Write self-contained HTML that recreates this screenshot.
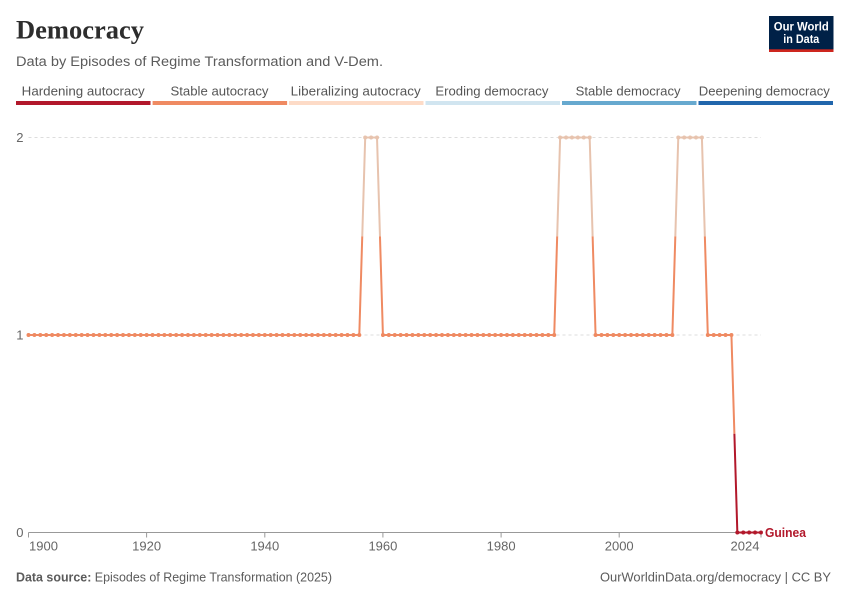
<!DOCTYPE html>
<html>
<head>
<meta charset="utf-8">
<style>
  html, body { margin: 0; padding: 0; background: #ffffff; }
  svg { display: block; }
  text { font-family: "Liberation Sans", "DejaVu Sans", sans-serif; }
  text.serif { font-family: "Liberation Serif", "DejaVu Serif", serif; }
</style>
</head>
<body>
<svg width="850" height="600" viewBox="0 0 850 600" xmlns="http://www.w3.org/2000/svg">
  <rect x="0" y="0" width="850" height="600" fill="#ffffff"/>

  <!-- Title -->
  <text class="serif" x="16" y="38.5" style="font-family:'Liberation Serif', serif; font-size:26px; font-weight:bold;" fill="#2d2d2d" textLength="128" lengthAdjust="spacingAndGlyphs">Democracy</text>
  <!-- Subtitle -->
  <text x="16" y="66" font-size="13.5" fill="#5b5b5b" textLength="367" lengthAdjust="spacingAndGlyphs">Data by Episodes of Regime Transformation and V-Dem.</text>

  <!-- Logo -->
  <rect x="769" y="16" width="64.5" height="36" fill="#002147"/>
  <rect x="769" y="49.3" width="64.5" height="2.7" fill="#ce261e"/>
  <text x="801.3" y="30.5" font-size="12" font-weight="bold" fill="#ffffff" text-anchor="middle" textLength="55" lengthAdjust="spacingAndGlyphs">Our World</text>
  <text x="801.3" y="43" font-size="12" font-weight="bold" fill="#ffffff" text-anchor="middle" textLength="36" lengthAdjust="spacingAndGlyphs">in Data</text>

  <!-- Legend -->
  <g font-size="13" fill="#555555" text-anchor="middle">
    <text x="83.2" y="95.5" textLength="123" lengthAdjust="spacingAndGlyphs">Hardening autocracy</text>
    <text x="219.5" y="95.5" textLength="98" lengthAdjust="spacingAndGlyphs">Stable autocracy</text>
    <text x="355.7" y="95.5" textLength="130" lengthAdjust="spacingAndGlyphs">Liberalizing autocracy</text>
    <text x="491.9" y="95.5" textLength="113" lengthAdjust="spacingAndGlyphs">Eroding democracy</text>
    <text x="628.1" y="95.5" textLength="105" lengthAdjust="spacingAndGlyphs">Stable democracy</text>
    <text x="764.3" y="95.5" textLength="131" lengthAdjust="spacingAndGlyphs">Deepening democracy</text>
  </g>
  <rect x="16" y="101" width="134.5" height="4" fill="#b2182b"/>
  <rect x="152.6" y="101" width="134.5" height="4" fill="#ef8a62"/>
  <rect x="289" y="101" width="134.5" height="4" fill="#fddbc7"/>
  <rect x="425.5" y="101" width="134.5" height="4" fill="#d1e5f0"/>
  <rect x="562" y="101" width="134.5" height="4" fill="#67a9cf"/>
  <rect x="698.5" y="101" width="134.5" height="4" fill="#2166ac"/>

  <!-- Gridlines -->
  <line x1="28.5" y1="137.5" x2="761" y2="137.5" stroke="#dddddd" stroke-width="1" stroke-dasharray="3,3"/>
  <line x1="28.5" y1="335" x2="761" y2="335" stroke="#dddddd" stroke-width="1" stroke-dasharray="3,3"/>
  <!-- X axis -->
  <line x1="28.5" y1="532.5" x2="761" y2="532.5" stroke="#999999" stroke-width="1"/>
  <g stroke="#999999" stroke-width="1">
    <line x1="28.5" y1="532.5" x2="28.5" y2="537.5"/>
    <line x1="146.6" y1="532.5" x2="146.6" y2="537.5"/>
    <line x1="264.8" y1="532.5" x2="264.8" y2="537.5"/>
    <line x1="382.9" y1="532.5" x2="382.9" y2="537.5"/>
    <line x1="501.1" y1="532.5" x2="501.1" y2="537.5"/>
    <line x1="619.2" y1="532.5" x2="619.2" y2="537.5"/>
    <line x1="761" y1="532.5" x2="761" y2="537.5"/>
  </g>

  <!-- Y labels -->
  <g font-size="13" fill="#666666" text-anchor="end">
    <text x="23.5" y="142">2</text>
    <text x="23.5" y="339.5">1</text>
    <text x="23.5" y="537">0</text>
  </g>
  <!-- X labels -->
  <g font-size="13" fill="#666666" text-anchor="middle">
    <text x="43.5" y="550.5">1900</text>
    <text x="146.6" y="550.5">1920</text>
    <text x="264.8" y="550.5">1940</text>
    <text x="382.9" y="550.5">1960</text>
    <text x="501.1" y="550.5">1980</text>
    <text x="619.2" y="550.5">2000</text>
    <text x="745" y="550.5">2024</text>
  </g>

  <!-- Series: Stable autocracy (orange) segments -->
  <path d="M28.5,335 H359.292 L362.25,236.25
           M379.97,236.25 L382.92,335 H554.223 L557.18,236.25
           M592.62,236.25 L595.572,335 H672.363 L675.32,236.25
           M704.85,236.25 L707.805,335 H731.433 L734.39,433.75"
        fill="none" stroke="#ef8a62" stroke-width="2" stroke-linejoin="round"/>
  <!-- Liberalizing autocracy (peach) segments -->
  <path d="M362.25,236.25 L365.199,137.5 H377.013 L379.97,236.25
           M557.18,236.25 L560.13,137.5 H589.665 L592.62,236.25
           M675.32,236.25 L678.27,137.5 H701.898 L704.85,236.25"
        fill="none" stroke="#e7c3ae" stroke-width="2" stroke-linejoin="round"/>
  <!-- Hardening autocracy (red) segment -->
  <path d="M734.39,433.75 L737.34,532.5 H760.968"
        fill="none" stroke="#b2182b" stroke-width="2" stroke-linejoin="round"/>

  <!-- Dots (one per year) via dasharray trick -->
  <g fill="none" stroke-linecap="round" stroke-width="4" stroke-dasharray="0 5.907">
    <path d="M28.5,335 H359.32" stroke="#ef8a62"/>
    <path d="M382.92,335 H554.25" stroke="#ef8a62"/>
    <path d="M595.572,335 H672.39" stroke="#ef8a62"/>
    <path d="M707.805,335 H731.46" stroke="#ef8a62"/>
    <path d="M365.199,137.5 H377.04" stroke="#e7c3ae"/>
    <path d="M560.13,137.5 H589.69" stroke="#e7c3ae"/>
    <path d="M678.27,137.5 H701.92" stroke="#e7c3ae"/>
    <path d="M737.34,532.5 H760.99" stroke="#b2182b"/>
  </g>

  <!-- Series label -->
  <text x="765" y="537" font-size="13" font-weight="bold" fill="#b2182b" textLength="41" lengthAdjust="spacingAndGlyphs">Guinea</text>

  <!-- Footer -->
  <text x="16" y="581.5" font-size="13" fill="#5b5b5b" textLength="316" lengthAdjust="spacingAndGlyphs"><tspan font-weight="bold">Data source:</tspan> Episodes of Regime Transformation (2025)</text>
  <text x="831" y="581.5" font-size="13" fill="#5b5b5b" text-anchor="end" textLength="231" lengthAdjust="spacingAndGlyphs">OurWorldinData.org/democracy | CC BY</text>
</svg>
</body>
</html>
